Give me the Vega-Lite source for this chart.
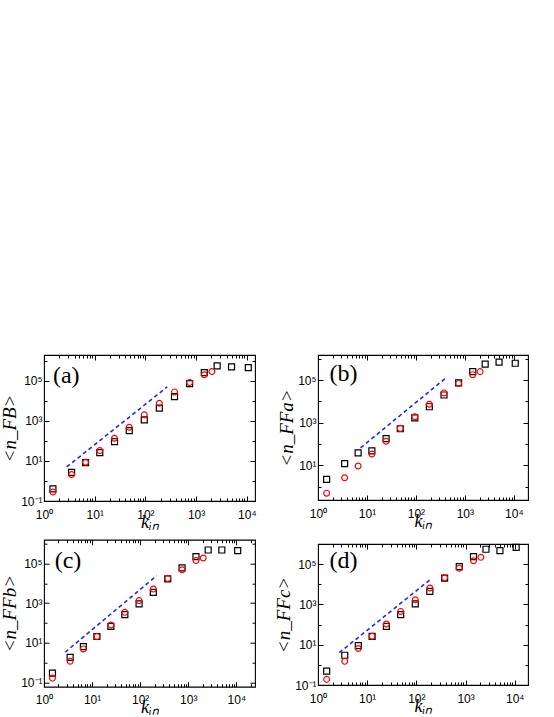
{
"$schema":"https://vega.github.io/schema/vega-lite/v6.json",
"padding":{"left":0,"top":352,"right":0,"bottom":0},
"datasets":{
"pts":[
{"p":"a","s":"sq","k":1.5,"n":0.4},{"p":"a","s":"sq","k":3.5,"n":2.7},{"p":"a","s":"sq","k":6.6,"n":8.2},{"p":"a","s":"sq","k":12.6,"n":26},{"p":"a","s":"sq","k":24.6,"n":92},{"p":"a","s":"sq","k":48,"n":330},{"p":"a","s":"sq","k":95,"n":1120},{"p":"a","s":"sq","k":188,"n":4300},{"p":"a","s":"sq","k":375,"n":16400},{"p":"a","s":"sq","k":745,"n":73000},{"p":"a","s":"sq","k":1450,"n":260000},{"p":"a","s":"sq","k":2600,"n":560000},{"p":"a","s":"sq","k":5000,"n":500000},{"p":"a","s":"sq","k":10700,"n":460000},
{"p":"a","s":"ci","k":1.5,"n":0.28},{"p":"a","s":"ci","k":3.5,"n":2.1},{"p":"a","s":"ci","k":6.6,"n":8.6},{"p":"a","s":"ci","k":12.6,"n":33},{"p":"a","s":"ci","k":24.6,"n":135},{"p":"a","s":"ci","k":48,"n":480},{"p":"a","s":"ci","k":95,"n":2000},{"p":"a","s":"ci","k":188,"n":7600},{"p":"a","s":"ci","k":375,"n":28000},{"p":"a","s":"ci","k":745,"n":82000},{"p":"a","s":"ci","k":1450,"n":200000},{"p":"a","s":"ci","k":2050,"n":290000},
{"p":"b","s":"sq","k":1.5,"n":2.2},{"p":"b","s":"sq","k":3.5,"n":11.9},{"p":"b","s":"sq","k":6.6,"n":38},{"p":"b","s":"sq","k":12.6,"n":47},{"p":"b","s":"sq","k":24.6,"n":178},{"p":"b","s":"sq","k":48,"n":520},{"p":"b","s":"sq","k":95,"n":1700},{"p":"b","s":"sq","k":188,"n":5600},{"p":"b","s":"sq","k":375,"n":20000},{"p":"b","s":"sq","k":745,"n":74000},{"p":"b","s":"sq","k":1450,"n":250000},{"p":"b","s":"sq","k":2600,"n":560000},{"p":"b","s":"sq","k":5000,"n":700000},{"p":"b","s":"sq","k":10700,"n":620000},
{"p":"b","s":"ci","k":1.5,"n":0.49},{"p":"b","s":"ci","k":3.5,"n":2.6},{"p":"b","s":"ci","k":6.6,"n":9.3},{"p":"b","s":"ci","k":12.6,"n":34},{"p":"b","s":"ci","k":24.6,"n":134},{"p":"b","s":"ci","k":48,"n":540},{"p":"b","s":"ci","k":95,"n":1900},{"p":"b","s":"ci","k":188,"n":7300},{"p":"b","s":"ci","k":375,"n":25000},{"p":"b","s":"ci","k":745,"n":70000},{"p":"b","s":"ci","k":1450,"n":180000},{"p":"b","s":"ci","k":2050,"n":250000},
{"p":"c","s":"sq","k":1.5,"n":0.3},{"p":"c","s":"sq","k":3.5,"n":1.9},{"p":"c","s":"sq","k":6.6,"n":6.5},{"p":"c","s":"sq","k":12.6,"n":21},{"p":"c","s":"sq","k":24.6,"n":68},{"p":"c","s":"sq","k":48,"n":264},{"p":"c","s":"sq","k":95,"n":910},{"p":"c","s":"sq","k":188,"n":3470},{"p":"c","s":"sq","k":375,"n":16600},{"p":"c","s":"sq","k":745,"n":59000},{"p":"c","s":"sq","k":1450,"n":220000},{"p":"c","s":"sq","k":2600,"n":470000},{"p":"c","s":"sq","k":5000,"n":470000},{"p":"c","s":"sq","k":10700,"n":440000},
{"p":"c","s":"ci","k":1.5,"n":0.17},{"p":"c","s":"ci","k":3.5,"n":1.19},{"p":"c","s":"ci","k":6.6,"n":5.0},{"p":"c","s":"ci","k":12.6,"n":21},{"p":"c","s":"ci","k":24.6,"n":80},{"p":"c","s":"ci","k":48,"n":345},{"p":"c","s":"ci","k":95,"n":1340},{"p":"c","s":"ci","k":188,"n":5100},{"p":"c","s":"ci","k":375,"n":17500},{"p":"c","s":"ci","k":745,"n":48000},{"p":"c","s":"ci","k":1450,"n":138000},{"p":"c","s":"ci","k":2050,"n":186000},
{"p":"d","s":"sq","k":1.5,"n":0.49},{"p":"d","s":"sq","k":3.5,"n":3.0},{"p":"d","s":"sq","k":6.6,"n":9.1},{"p":"d","s":"sq","k":12.6,"n":26},{"p":"d","s":"sq","k":24.6,"n":81},{"p":"d","s":"sq","k":48,"n":310},{"p":"d","s":"sq","k":95,"n":1070},{"p":"d","s":"sq","k":188,"n":4400},{"p":"d","s":"sq","k":375,"n":20000},{"p":"d","s":"sq","k":745,"n":76000},{"p":"d","s":"sq","k":1450,"n":235000},{"p":"d","s":"sq","k":2600,"n":550000},{"p":"d","s":"sq","k":5000,"n":470000},{"p":"d","s":"sq","k":10700,"n":680000},
{"p":"d","s":"ci","k":1.5,"n":0.19},{"p":"d","s":"ci","k":3.5,"n":1.5},{"p":"d","s":"ci","k":6.6,"n":6.5},{"p":"d","s":"ci","k":12.6,"n":26},{"p":"d","s":"ci","k":24.6,"n":107},{"p":"d","s":"ci","k":48,"n":450},{"p":"d","s":"ci","k":95,"n":1700},{"p":"d","s":"ci","k":188,"n":6500},{"p":"d","s":"ci","k":375,"n":21000},{"p":"d","s":"ci","k":745,"n":63000},{"p":"d","s":"ci","k":1450,"n":148000},{"p":"d","s":"ci","k":2050,"n":218000}
],
"fit":[
{"p":"a","k":2.8,"n":5},{"p":"a","k":270,"n":50000},
{"p":"b","k":7.4,"n":66},{"p":"b","k":390,"n":115000},
{"p":"c","k":2.75,"n":3.4},{"p":"c","k":220,"n":24000},
{"p":"d","k":2.7,"n":4.0},{"p":"d","k":195,"n":17800}
],
"labels":[{"p":"a","t":"(a)"},{"p":"b","t":"(b)"},{"p":"c","t":"(c)"},{"p":"d","t":"(d)"}]
},
"hconcat":[
{"vconcat":[
{"width":211,"height":146,
"resolve":{"axis":{"x":"independent","y":"independent"}},
"layer":[
{"data":{"name":"pts"},"transform":[{"filter":"datum.p=='a' && datum.s=='sq'"}],
"mark":{"type":"point","shape":"square","filled":false,"stroke":"black","strokeWidth":1.2,"size":36,"opacity":1},
"encoding":{
"x":{"field":"k","type":"quantitative","scale":{"type":"log","domain":[1,14500],"nice":false},
"axis":{"orient":"bottom","values":[1,2,3,4,5,6,7,8,9,10,20,30,40,50,60,70,80,90,100,200,300,400,500,600,700,800,900,1000,2000,3000,4000,5000,6000,7000,8000,9000,10000],"labelExpr":"datum.value==1?'10⁰':datum.value==10?'10¹':datum.value==100?'10²':datum.value==1000?'10³':datum.value==10000?'10⁴':''","tickSize":{"condition":{"test":"indexof([1,10,100,1000,10000],datum.value)>=0","value":-5},"value":-3},"labelPadding":13,"title":"kᵢₙ","titleFontSize":18,"titlePadding":-9}},
"y":{"field":"n","type":"quantitative","scale":{"type":"log","domain":[0.1,1950000],"nice":false},
"axis":{"orient":"left","values":[0.1,1,10,100,1000,10000,100000,1000000],"labelExpr":"datum.value==0.1?'10⁻¹':datum.value==10?'10¹':datum.value==1000?'10³':datum.value==100000?'10⁵':''","tickSize":{"condition":{"test":"indexof([0.1,10,1000,100000],datum.value)>=0","value":-5},"value":-3},"labelPadding":7,"title":"<n_FB>","titleFontSize":19,"titlePadding":1}}}},
{"data":{"name":"pts"},"transform":[{"filter":"datum.p=='a' && datum.s=='ci'"}],
"mark":{"type":"point","shape":"circle","filled":false,"stroke":"#ff0000","strokeWidth":1.2,"size":34,"opacity":1},
"encoding":{"x":{"field":"k","type":"quantitative","axis":null},"y":{"field":"n","type":"quantitative","axis":null}}},
{"data":{"name":"fit"},"transform":[{"filter":"datum.p=='a'"}],
"mark":{"type":"line","stroke":"#2424ff","strokeDash":[4,3],"strokeWidth":1.6},
"encoding":{"x":{"field":"k","type":"quantitative","axis":null},"y":{"field":"n","type":"quantitative","axis":null}}},
{"data":{"name":"labels"},"transform":[{"filter":"datum.p=='a'"}],
"mark":{"type":"text","align":"left","baseline":"top","font":"Liberation Serif","fontSize":24,"color":"black"},
"encoding":{"text":{"field":"t"},"x":{"datum":1.5,"type":"quantitative","axis":null},"y":{"datum":710000,"type":"quantitative","axis":null}}},
{"data":{"name":"fit"},"transform":[{"filter":"datum.p=='a'"}],
"mark":{"type":"point","opacity":0},
"encoding":{"x":{"field":"k","type":"quantitative","axis":{"orient":"top","values":[1,2,3,4,5,6,7,8,9,10,20,30,40,50,60,70,80,90,100,200,300,400,500,600,700,800,900,1000,2000,3000,4000,5000,6000,7000,8000,9000,10000],"tickSize":{"condition":{"test":"indexof([1,10,100,1000,10000],datum.value)>=0","value":-5},"value":-3},"labels":false,"title":null}},
"y":{"field":"n","type":"quantitative","axis":{"orient":"right","values":[0.1,1,10,100,1000,10000,100000,1000000],"tickSize":{"condition":{"test":"indexof([0.1,10,1000,100000],datum.value)>=0","value":-5},"value":-3},"labels":false,"title":null}}}}
]},
{"width":211,"height":147,
"resolve":{"axis":{"x":"independent","y":"independent"}},
"layer":[
{"data":{"name":"pts"},"transform":[{"filter":"datum.p=='c' && datum.s=='sq'"}],
"mark":{"type":"point","shape":"square","filled":false,"stroke":"black","strokeWidth":1.2,"size":36,"opacity":1},
"encoding":{
"x":{"field":"k","type":"quantitative","scale":{"type":"log","domain":[1,24500],"nice":false},
"axis":{"orient":"bottom","values":[1,2,3,4,5,6,7,8,9,10,20,30,40,50,60,70,80,90,100,200,300,400,500,600,700,800,900,1000,2000,3000,4000,5000,6000,7000,8000,9000,10000,20000],"labelExpr":"datum.value==1?'10⁰':datum.value==10?'10¹':datum.value==100?'10²':datum.value==1000?'10³':datum.value==10000?'10⁴':''","tickSize":{"condition":{"test":"indexof([1,10,100,1000,10000],datum.value)>=0","value":-5},"value":-3},"labelPadding":13,"title":"kᵢₙ","titleFontSize":18,"titlePadding":-9}},
"y":{"field":"n","type":"quantitative","scale":{"type":"log","domain":[0.063,1550000],"nice":false},
"axis":{"orient":"left","values":[0.1,1,10,100,1000,10000,100000,1000000],"labelExpr":"datum.value==0.1?'10⁻¹':datum.value==10?'10¹':datum.value==1000?'10³':datum.value==100000?'10⁵':''","tickSize":{"condition":{"test":"indexof([0.1,10,1000,100000],datum.value)>=0","value":-5},"value":-3},"labelPadding":7,"title":"<n_FFb>","titleFontSize":19,"titlePadding":1}}}},
{"data":{"name":"pts"},"transform":[{"filter":"datum.p=='c' && datum.s=='ci'"}],
"mark":{"type":"point","shape":"circle","filled":false,"stroke":"#ff0000","strokeWidth":1.2,"size":34,"opacity":1},
"encoding":{"x":{"field":"k","type":"quantitative","axis":null},"y":{"field":"n","type":"quantitative","axis":null}}},
{"data":{"name":"fit"},"transform":[{"filter":"datum.p=='c'"}],
"mark":{"type":"line","stroke":"#2424ff","strokeDash":[4,3],"strokeWidth":1.6},
"encoding":{"x":{"field":"k","type":"quantitative","axis":null},"y":{"field":"n","type":"quantitative","axis":null}}},
{"data":{"name":"labels"},"transform":[{"filter":"datum.p=='c'"}],
"mark":{"type":"text","align":"left","baseline":"top","font":"Liberation Serif","fontSize":24,"color":"black"},
"encoding":{"text":{"field":"t"},"x":{"datum":1.67,"type":"quantitative","axis":null},"y":{"datum":550000,"type":"quantitative","axis":null}}},
{"data":{"name":"fit"},"transform":[{"filter":"datum.p=='c'"}],
"mark":{"type":"point","opacity":0},
"encoding":{"x":{"field":"k","type":"quantitative","axis":{"orient":"top","values":[1,2,3,4,5,6,7,8,9,10,20,30,40,50,60,70,80,90,100,200,300,400,500,600,700,800,900,1000,2000,3000,4000,5000,6000,7000,8000,9000,10000,20000],"tickSize":{"condition":{"test":"indexof([1,10,100,1000,10000],datum.value)>=0","value":-5},"value":-3},"labels":false,"title":null}},
"y":{"field":"n","type":"quantitative","axis":{"orient":"right","values":[0.1,1,10,100,1000,10000,100000,1000000],"tickSize":{"condition":{"test":"indexof([0.1,10,1000,100000],datum.value)>=0","value":-5},"value":-3},"labels":false,"title":null}}}}
]}
],"spacing":38.7,"bounds":"flush"},
{"vconcat":[
{"width":210,"height":145,
"resolve":{"axis":{"x":"independent","y":"independent"}},
"layer":[
{"data":{"name":"pts"},"transform":[{"filter":"datum.p=='b' && datum.s=='sq'"}],
"mark":{"type":"point","shape":"square","filled":false,"stroke":"black","strokeWidth":1.2,"size":36,"opacity":1},
"encoding":{
"x":{"field":"k","type":"quantitative","scale":{"type":"log","domain":[1,19500],"nice":false},
"axis":{"orient":"bottom","values":[1,2,3,4,5,6,7,8,9,10,20,30,40,50,60,70,80,90,100,200,300,400,500,600,700,800,900,1000,2000,3000,4000,5000,6000,7000,8000,9000,10000],"labelExpr":"datum.value==1?'10⁰':datum.value==10?'10¹':datum.value==100?'10²':datum.value==1000?'10³':datum.value==10000?'10⁴':''","tickSize":{"condition":{"test":"indexof([1,10,100,1000,10000],datum.value)>=0","value":-5},"value":-3},"labelPadding":13,"title":"kᵢₙ","titleFontSize":18,"titlePadding":-9}},
"y":{"field":"n","type":"quantitative","scale":{"type":"log","domain":[0.234,1510000],"nice":false},
"axis":{"orient":"left","values":[1,10,100,1000,10000,100000,1000000],"labelExpr":"datum.value==10?'10¹':datum.value==1000?'10³':datum.value==100000?'10⁵':''","tickSize":{"condition":{"test":"indexof([10,1000,100000],datum.value)>=0","value":-5},"value":-3},"labelPadding":7,"title":"<n_FFa>","titleFontSize":19,"titlePadding":1}}}},
{"data":{"name":"pts"},"transform":[{"filter":"datum.p=='b' && datum.s=='ci'"}],
"mark":{"type":"point","shape":"circle","filled":false,"stroke":"#ff0000","strokeWidth":1.2,"size":34,"opacity":1},
"encoding":{"x":{"field":"k","type":"quantitative","axis":null},"y":{"field":"n","type":"quantitative","axis":null}}},
{"data":{"name":"fit"},"transform":[{"filter":"datum.p=='b'"}],
"mark":{"type":"line","stroke":"#2424ff","strokeDash":[4,3],"strokeWidth":1.6},
"encoding":{"x":{"field":"k","type":"quantitative","axis":null},"y":{"field":"n","type":"quantitative","axis":null}}},
{"data":{"name":"labels"},"transform":[{"filter":"datum.p=='b'"}],
"mark":{"type":"text","align":"left","baseline":"top","font":"Liberation Serif","fontSize":24,"color":"black"},
"encoding":{"text":{"field":"t"},"x":{"datum":1.72,"type":"quantitative","axis":null},"y":{"datum":740000,"type":"quantitative","axis":null}}},
{"data":{"name":"fit"},"transform":[{"filter":"datum.p=='b'"}],
"mark":{"type":"point","opacity":0},
"encoding":{"x":{"field":"k","type":"quantitative","axis":{"orient":"top","values":[1,2,3,4,5,6,7,8,9,10,20,30,40,50,60,70,80,90,100,200,300,400,500,600,700,800,900,1000,2000,3000,4000,5000,6000,7000,8000,9000,10000],"tickSize":{"condition":{"test":"indexof([1,10,100,1000,10000],datum.value)>=0","value":-5},"value":-3},"labels":false,"title":null}},
"y":{"field":"n","type":"quantitative","axis":{"orient":"right","values":[1,10,100,1000,10000,100000,1000000],"tickSize":{"condition":{"test":"indexof([10,1000,100000],datum.value)>=0","value":-5},"value":-3},"labels":false,"title":null}}}}
]},
{"width":210,"height":141,
"resolve":{"axis":{"x":"independent","y":"independent"}},
"layer":[
{"data":{"name":"pts"},"transform":[{"filter":"datum.p=='d' && datum.s=='sq'"}],
"mark":{"type":"point","shape":"square","filled":false,"stroke":"black","strokeWidth":1.2,"size":36,"opacity":1},
"encoding":{
"x":{"field":"k","type":"quantitative","scale":{"type":"log","domain":[1,18600],"nice":false},
"axis":{"orient":"bottom","values":[1,2,3,4,5,6,7,8,9,10,20,30,40,50,60,70,80,90,100,200,300,400,500,600,700,800,900,1000,2000,3000,4000,5000,6000,7000,8000,9000,10000],"labelExpr":"datum.value==1?'10⁰':datum.value==10?'10¹':datum.value==100?'10²':datum.value==1000?'10³':datum.value==10000?'10⁴':''","tickSize":{"condition":{"test":"indexof([1,10,100,1000,10000],datum.value)>=0","value":-5},"value":-3},"labelPadding":13,"title":"kᵢₙ","titleFontSize":18,"titlePadding":-9}},
"y":{"field":"n","type":"quantitative","scale":{"type":"log","domain":[0.1,1000000],"nice":false},
"axis":{"orient":"left","values":[0.1,1,10,100,1000,10000,100000,1000000],"labelExpr":"datum.value==0.1?'10⁻¹':datum.value==10?'10¹':datum.value==1000?'10³':datum.value==100000?'10⁵':''","tickSize":{"condition":{"test":"indexof([0.1,10,1000,100000],datum.value)>=0","value":-5},"value":-3},"labelPadding":7,"title":"<n_FFc>","titleFontSize":19,"titlePadding":1}}}},
{"data":{"name":"pts"},"transform":[{"filter":"datum.p=='d' && datum.s=='ci'"}],
"mark":{"type":"point","shape":"circle","filled":false,"stroke":"#ff0000","strokeWidth":1.2,"size":34,"opacity":1},
"encoding":{"x":{"field":"k","type":"quantitative","axis":null},"y":{"field":"n","type":"quantitative","axis":null}}},
{"data":{"name":"fit"},"transform":[{"filter":"datum.p=='d'"}],
"mark":{"type":"line","stroke":"#2424ff","strokeDash":[4,3],"strokeWidth":1.6},
"encoding":{"x":{"field":"k","type":"quantitative","axis":null},"y":{"field":"n","type":"quantitative","axis":null}}},
{"data":{"name":"labels"},"transform":[{"filter":"datum.p=='d'"}],
"mark":{"type":"text","align":"left","baseline":"top","font":"Liberation Serif","fontSize":24,"color":"black"},
"encoding":{"text":{"field":"t"},"x":{"datum":1.72,"type":"quantitative","axis":null},"y":{"datum":590000,"type":"quantitative","axis":null}}},
{"data":{"name":"fit"},"transform":[{"filter":"datum.p=='d'"}],
"mark":{"type":"point","opacity":0},
"encoding":{"x":{"field":"k","type":"quantitative","axis":{"orient":"top","values":[1,2,3,4,5,6,7,8,9,10,20,30,40,50,60,70,80,90,100,200,300,400,500,600,700,800,900,1000,2000,3000,4000,5000,6000,7000,8000,9000,10000],"tickSize":{"condition":{"test":"indexof([1,10,100,1000,10000],datum.value)>=0","value":-5},"value":-3},"labels":false,"title":null}},
"y":{"field":"n","type":"quantitative","axis":{"orient":"right","values":[0.1,1,10,100,1000,10000,100000,1000000],"tickSize":{"condition":{"test":"indexof([0.1,10,1000,100000],datum.value)>=0","value":-5},"value":-3},"labels":false,"title":null}}}}
]}
],"spacing":44,"bounds":"flush"}
],
"spacing":17,
"config":{
"view":{"stroke":"black","strokeWidth":1.1},
"axis":{"domain":false,"grid":false,"tickColor":"black","tickWidth":1,"labelColor":"black","labelFont":"Liberation Sans","labelFontSize":12,"labelOverlap":false,"labelFlush":false,"labelBound":false,"titleColor":"black","titleFont":"Liberation Serif","titleFontWeight":"normal","titleFontStyle":"italic"}
}
}
